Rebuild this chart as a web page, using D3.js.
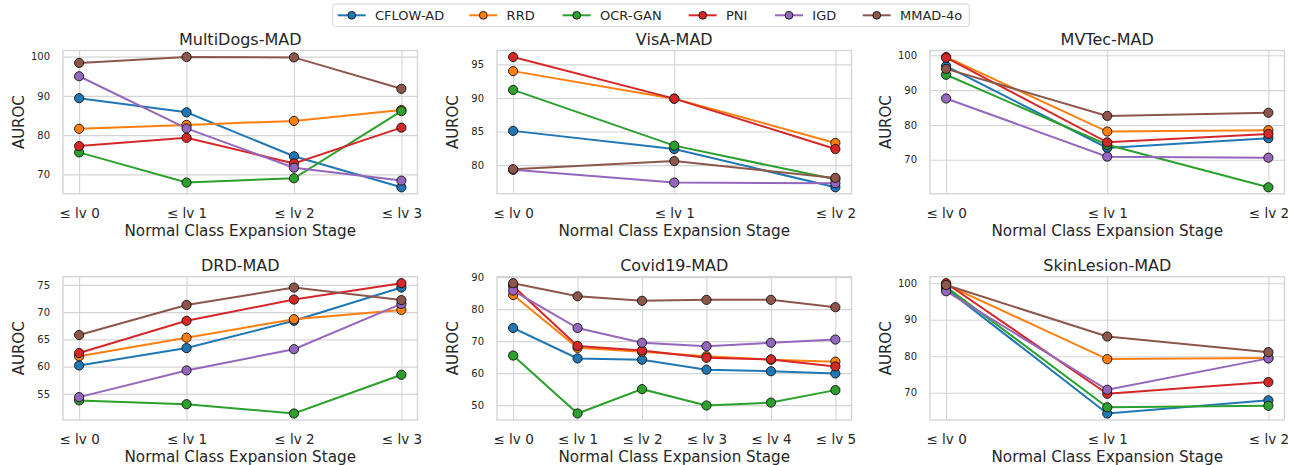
<!DOCTYPE html>
<html>
<head>
<meta charset="utf-8">
<script src="https://cdn.jsdelivr.net/npm/d3@7"></script>
<style>
  body { margin: 0; background: #fff; }
  svg { display: block; font-family: "DejaVu Sans", sans-serif; }
</style>
</head>
<body>
<div id="chart"></div>
<script>
// methods / colours
var methods = ["CFLOW-AD", "RRD", "OCR-GAN", "PNI", "IGD", "MMAD-4o"];
var colors = ["#1f77b4", "#ff7f0e", "#2ca02c", "#d62728", "#9467bd", "#8c564b"];

var levels3 = ["≤ lv 0", "≤ lv 1", "≤ lv 2"];
var levels4 = ["≤ lv 0", "≤ lv 1", "≤ lv 2", "≤ lv 3"];
var levels6 = ["≤ lv 0", "≤ lv 1", "≤ lv 2", "≤ lv 3", "≤ lv 4", "≤ lv 5"];

// one row per method, same order as methods
var multiDogs = [
  [89.4, 85.8, 74.6, 66.7],
  [81.6, 82.6, 83.6, 86.4],
  [75.6, 67.9, 69.0, 86.1],
  [77.2, 79.3, 72.8, 81.9],
  [95.0, 81.7, 71.7, 68.4],
  [98.4, 99.9, 99.8, 91.8]
];
var visA = [
  [85.1, 82.4, 76.7],
  [94.0, 89.9, 83.3],
  [91.2, 82.9, 77.9],
  [96.1, 89.9, 82.4],
  [79.3, 77.4, 77.3],
  [79.4, 80.6, 78.1]
];
var mvtec = [
  [96.9, 73.4, 76.2],
  [99.5, 78.1, 78.5],
  [94.4, 74.3, 62.1],
  [99.3, 75.0, 77.4],
  [87.6, 70.9, 70.6],
  [96.1, 82.6, 83.5]
];
var drd = [
  [60.2, 63.4, 68.4, 74.5],
  [61.9, 65.3, 68.7, 70.4],
  [53.8, 53.1, 51.4, 58.5],
  [62.5, 68.4, 72.3, 75.3],
  [54.4, 59.3, 63.2, 71.5],
  [65.8, 71.3, 74.5, 72.2]
];
var covid = [
  [74.1, 64.6, 64.2, 61.1, 60.6, 59.9],
  [84.4, 67.9, 66.7, 65.3, 64.2, 63.6],
  [65.5, 47.4, 55.0, 49.9, 50.8, 54.7],
  [87.2, 68.5, 67.1, 64.8, 64.3, 62.1],
  [85.8, 74.1, 69.5, 68.4, 69.5, 70.5],
  [88.1, 84.0, 82.6, 82.9, 82.9, 80.6]
];
var skin = [
  [98.5, 64.3, 67.9],
  [99.6, 79.2, 79.5],
  [99.0, 66.0, 66.4],
  [100.0, 69.7, 72.9],
  [97.8, 70.8, 79.4],
  [99.5, 85.4, 81.1]
];

var panels = [
  {title: "MultiDogs-MAD", levels: levels4, data: multiDogs},
  {title: "VisA-MAD", levels: levels3, data: visA},
  {title: "MVTec-MAD", levels: levels3, data: mvtec},
  {title: "DRD-MAD", levels: levels4, data: drd},
  {title: "Covid19-MAD", levels: levels6, data: covid},
  {title: "SkinLesion-MAD", levels: levels3, data: skin}
];

var W = 1291, H = 465;
var textColor = "#262626";
var colLeft = [63, 497, 930];
var rowTop = [50.5, 276.7];
var pw = 354.5, ph = 143.3;

var svg = d3.select("#chart").append("svg")
  .attr("width", W).attr("height", H);

panels.forEach(function(p, i) {
  var left = colLeft[i % 3], top = rowTop[Math.floor(i / 3)];
  var g = svg.append("g").attr("transform", "translate(" + left + "," + top + ")");
  var n = p.levels.length;

  // matplotlib-like 5% margins
  var x = d3.scaleLinear().domain([-0.05 * (n - 1), 1.05 * (n - 1)]).range([0, pw]);
  var all = d3.merge(p.data);
  var lo = d3.min(all), hi = d3.max(all), r = hi - lo;
  var y = d3.scaleLinear().domain([lo - 0.05 * r, hi + 0.05 * r]).range([ph, 0]);

  // grid + tick labels
  var yAxis = g.append("g")
    .call(d3.axisLeft(y).ticks(5).tickSize(-pw).tickPadding(13));
  var xAxis = g.append("g")
    .attr("transform", "translate(0," + ph + ")")
    .call(d3.axisBottom(x).tickValues(d3.range(n))
      .tickFormat(function(d) { return p.levels[d]; })
      .tickSize(-ph));
  [yAxis, xAxis].forEach(function(a) {
    a.select(".domain").remove();
    a.selectAll("line").attr("stroke", "#d4d4d4").attr("stroke-width", 1.1);
    a.selectAll("text").attr("fill", textColor).style("font-family", "DejaVu Sans");
  });
  yAxis.selectAll("text").style("font-size", "10px");
  xAxis.selectAll("text").style("font-size", "13.5px").attr("y", 24).attr("dy", 0);

  // frame
  g.append("rect")
    .attr("width", pw).attr("height", ph)
    .attr("fill", "none").attr("stroke", "#d4d4d4").attr("stroke-width", 1.4);

  // series
  var line = d3.line()
    .x(function(d, j) { return x(j); })
    .y(function(d) { return y(d); });
  p.data.forEach(function(vals, k) {
    g.append("path")
      .datum(vals)
      .attr("d", line)
      .attr("fill", "none")
      .attr("stroke", colors[k])
      .attr("stroke-width", 2);
    g.selectAll(".m" + k).data(vals).enter().append("circle")
      .attr("class", "m" + k)
      .attr("cx", function(d, j) { return x(j); })
      .attr("cy", function(d) { return y(d); })
      .attr("r", 4.6)
      .attr("fill", colors[k])
      .attr("stroke", "#111")
      .attr("stroke-width", 0.9);
  });

  // title + axis labels
  g.append("text")
    .attr("x", pw / 2).attr("y", -5.5)
    .attr("text-anchor", "middle")
    .attr("fill", textColor)
    .style("font-size", "16px")
    .text(p.title);
  g.append("text")
    .attr("x", pw / 2).attr("y", ph + 42)
    .attr("text-anchor", "middle")
    .attr("fill", textColor)
    .style("font-size", "15.2px")
    .text("Normal Class Expansion Stage");
  g.append("text")
    .attr("transform", "translate(-39.5," + (ph / 2) + ") rotate(-90)")
    .attr("text-anchor", "middle")
    .attr("fill", textColor)
    .style("font-size", "15px")
    .text("AUROC");
});

// legend
var legX = [337.7, 469.3, 562.7, 688.7, 775, 862.7];
var leg = svg.append("g");
leg.append("rect")
  .attr("x", 332.7).attr("y", 4).attr("width", 636.6).attr("height", 22.7)
  .attr("rx", 3)
  .attr("fill", "#fff").attr("fill-opacity", 0.8)
  .attr("stroke", "#d4d4d4").attr("stroke-width", 1);
methods.forEach(function(m, k) {
  var e = leg.append("g").attr("transform", "translate(" + legX[k] + ",15.3)");
  e.append("line").attr("x1", 0).attr("x2", 28)
    .attr("stroke", colors[k]).attr("stroke-width", 2);
  e.append("circle").attr("cx", 14).attr("r", 3.9)
    .attr("fill", colors[k]).attr("stroke", "#111").attr("stroke-width", 0.9);
  e.append("text").attr("x", 37.3).attr("dy", "0.36em")
    .attr("fill", textColor)
    .style("font-size", "13px")
    .text(m);
});
</script>
</body>
</html>
